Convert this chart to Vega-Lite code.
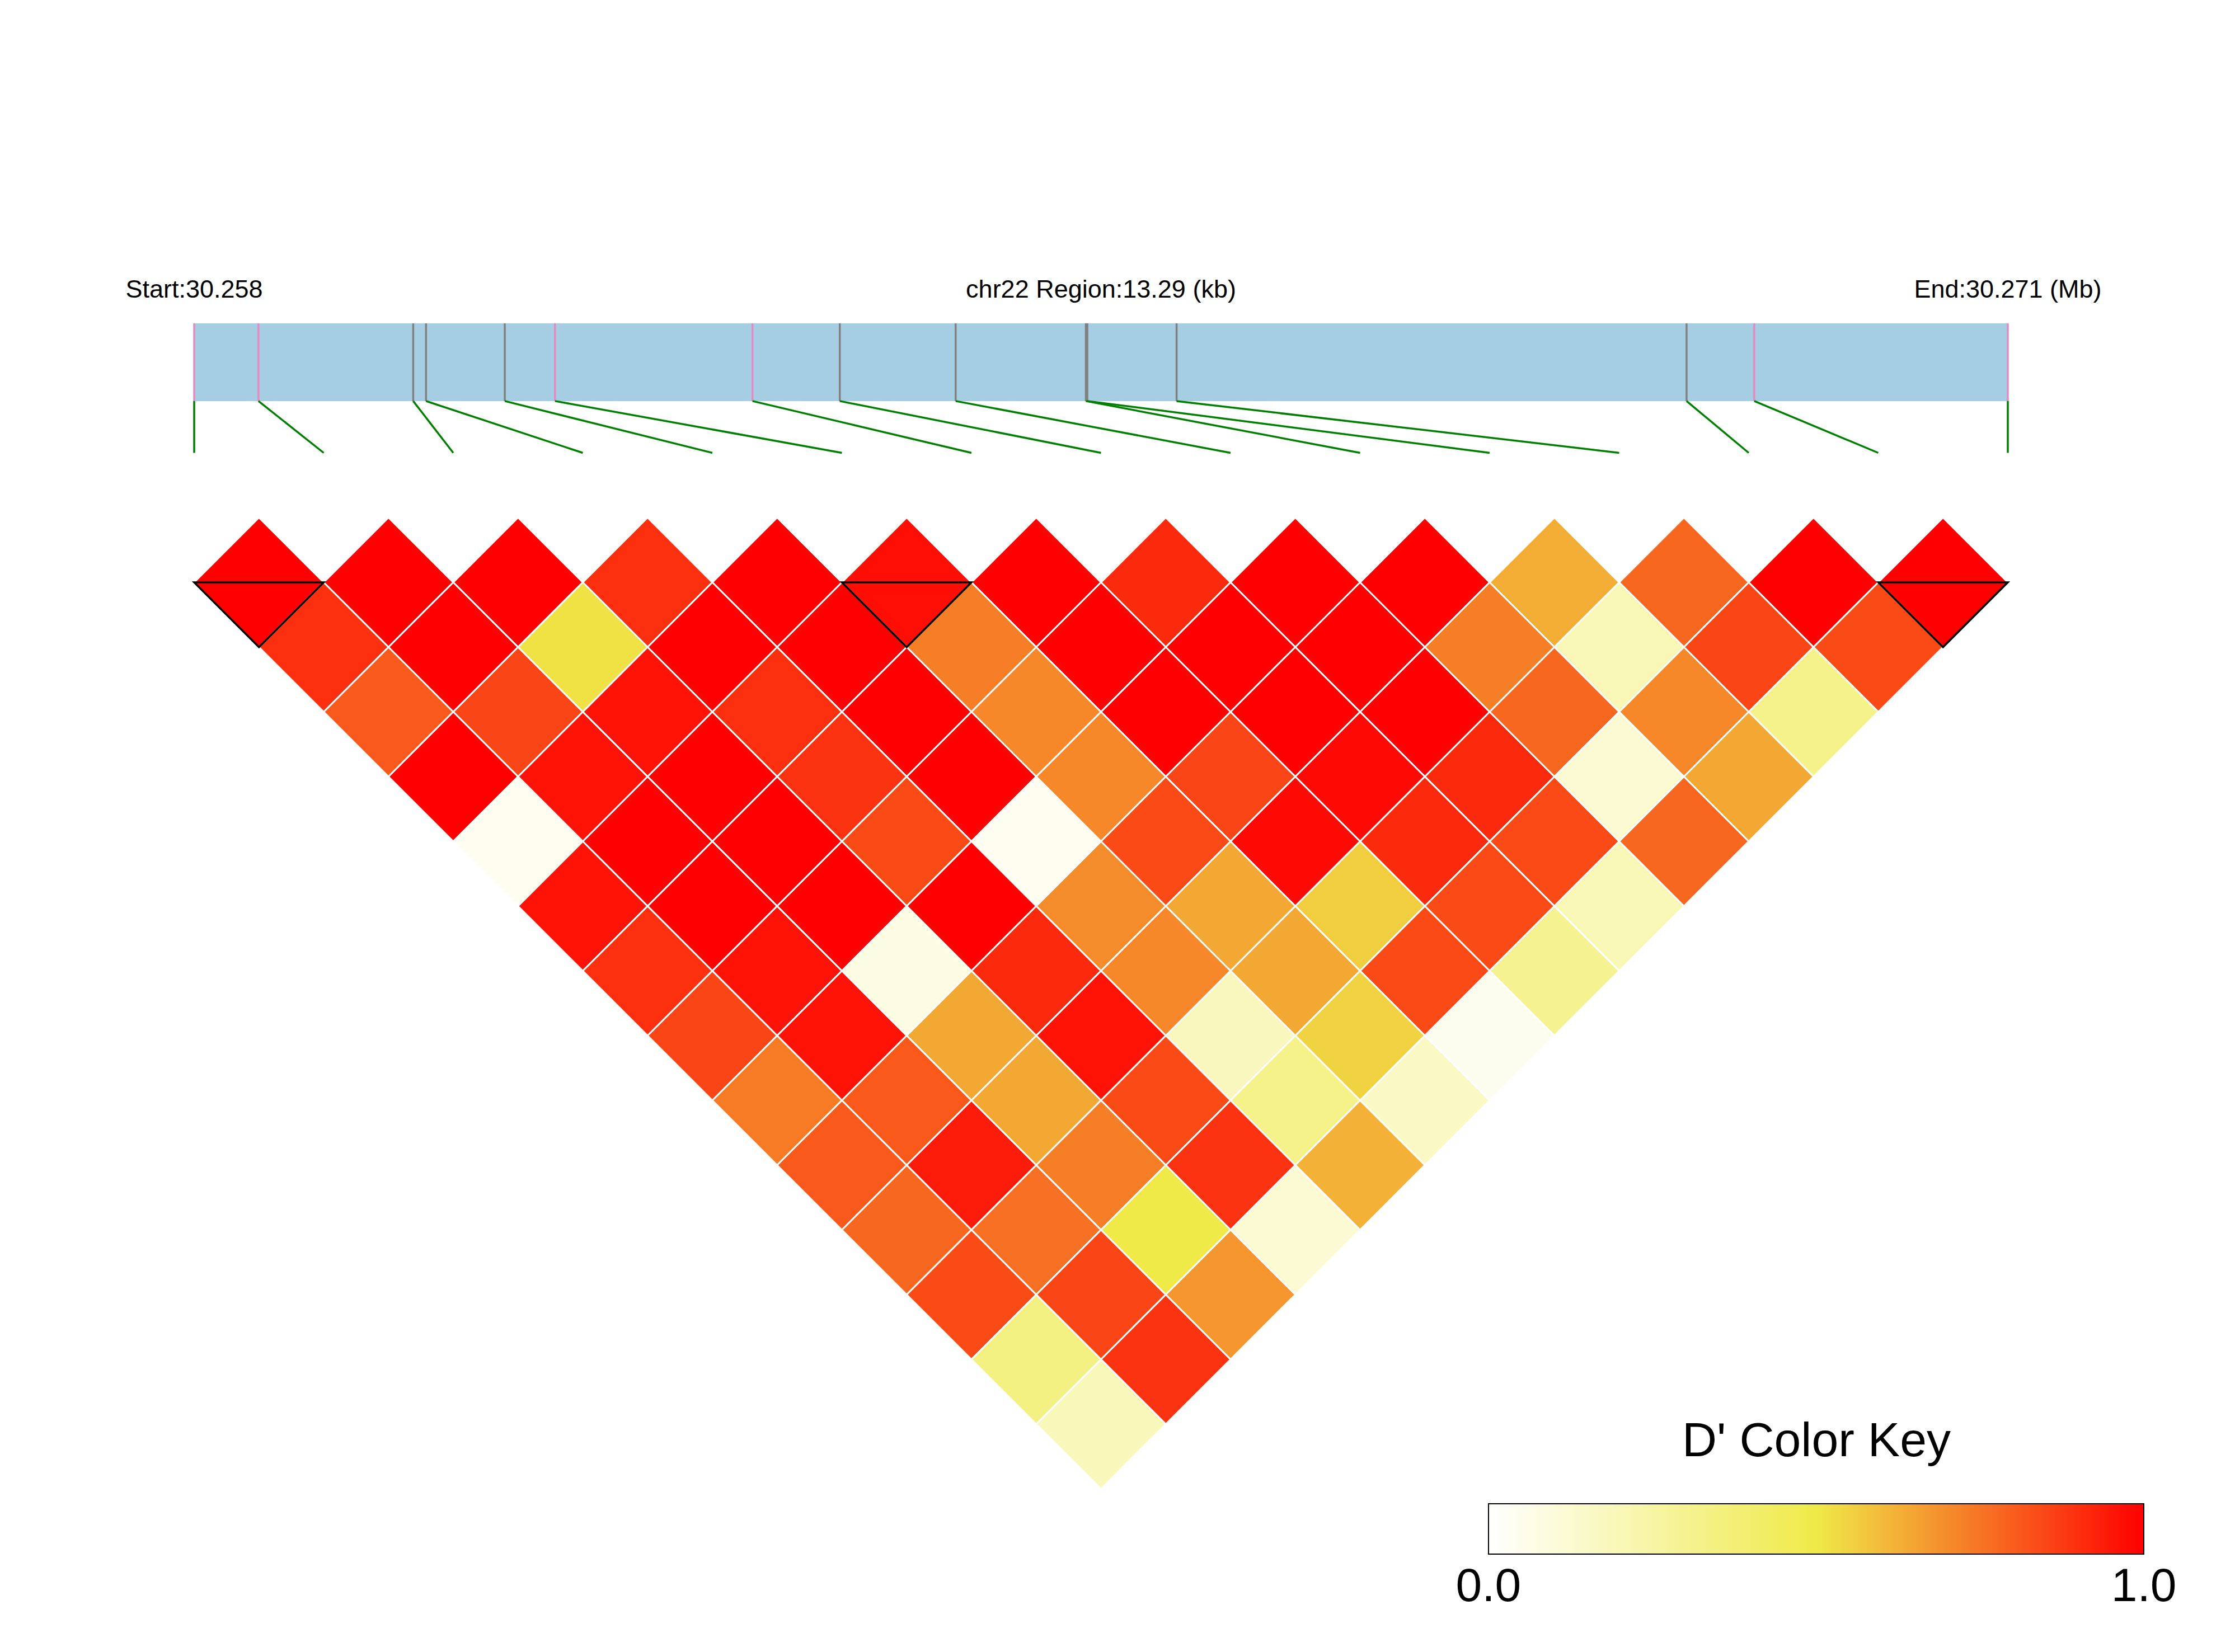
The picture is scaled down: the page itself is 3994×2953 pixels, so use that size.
{
  "$schema": "https://vega.github.io/schema/vega-lite/v6.json",
  "width": 3994,
  "height": 2953,
  "autosize": {"type": "none"},
  "padding": 0,
  "background": "white",
  "config": {"view": {"stroke": null}, "font": "Liberation Sans"},
  "datasets": {
    "region": [{"chr": "chr22", "start": 30258000, "end": 30271290}],
    "labels": [
      {"text": "Start:30.258", "pos": 30258000},
      {"text": "chr22 Region:13.29 (kb)", "pos": 30264645},
      {"text": "End:30.271 (Mb)", "pos": 30271290}
    ],
    "keyLabels": [{"v": 0, "text": "0.0"}, {"v": 1, "text": "1.0"}],
    "snps": [
      {"snp": "SNP1", "idx": 0, "pos": 30258000, "block": "yes"},
      {"snp": "SNP2", "idx": 1, "pos": 30258471, "block": "yes"},
      {"snp": "SNP3", "idx": 2, "pos": 30259605, "block": "no"},
      {"snp": "SNP4", "idx": 3, "pos": 30259699, "block": "no"},
      {"snp": "SNP5", "idx": 4, "pos": 30260276, "block": "no"},
      {"snp": "SNP6", "idx": 5, "pos": 30260644, "block": "yes"},
      {"snp": "SNP7", "idx": 6, "pos": 30262091, "block": "yes"},
      {"snp": "SNP8", "idx": 7, "pos": 30262731, "block": "no"},
      {"snp": "SNP9", "idx": 8, "pos": 30263580, "block": "no"},
      {"snp": "SNP10", "idx": 9, "pos": 30264534, "block": "no"},
      {"snp": "SNP11", "idx": 10, "pos": 30264545, "block": "no"},
      {"snp": "SNP12", "idx": 11, "pos": 30265199, "block": "no"},
      {"snp": "SNP13", "idx": 12, "pos": 30268936, "block": "no"},
      {"snp": "SNP14", "idx": 13, "pos": 30269432, "block": "yes"},
      {"snp": "SNP15", "idx": 14, "pos": 30271290, "block": "yes"}
    ],
    "blocks": [{"i": 0, "j": 1}, {"i": 5, "j": 6}, {"i": 13, "j": 14}],
    "ld": [
      {"i": 0, "j": 1, "d": 1.0}, {"i": 1, "j": 2, "d": 1.0}, {"i": 2, "j": 3, "d": 1.0}, {"i": 3, "j": 4, "d": 0.90},
      {"i": 4, "j": 5, "d": 1.0}, {"i": 5, "j": 6, "d": 0.97}, {"i": 6, "j": 7, "d": 1.0}, {"i": 7, "j": 8, "d": 0.91},
      {"i": 8, "j": 9, "d": 1.0}, {"i": 9, "j": 10, "d": 1.0}, {"i": 10, "j": 11, "d": 0.63}, {"i": 11, "j": 12, "d": 0.78},
      {"i": 12, "j": 13, "d": 1.0}, {"i": 13, "j": 14, "d": 1.0},
      {"i": 0, "j": 2, "d": 0.90}, {"i": 1, "j": 3, "d": 1.0}, {"i": 2, "j": 4, "d": 0.52}, {"i": 3, "j": 5, "d": 1.0},
      {"i": 4, "j": 6, "d": 1.0}, {"i": 5, "j": 7, "d": 0.73}, {"i": 6, "j": 8, "d": 1.0}, {"i": 7, "j": 9, "d": 1.0},
      {"i": 8, "j": 10, "d": 1.0}, {"i": 9, "j": 11, "d": 0.73}, {"i": 10, "j": 12, "d": 0.2}, {"i": 11, "j": 13, "d": 0.85},
      {"i": 12, "j": 14, "d": 0.84},
      {"i": 0, "j": 3, "d": 0.81}, {"i": 1, "j": 4, "d": 0.85}, {"i": 2, "j": 5, "d": 0.96}, {"i": 3, "j": 6, "d": 0.90},
      {"i": 4, "j": 7, "d": 1.0}, {"i": 5, "j": 8, "d": 0.71}, {"i": 6, "j": 9, "d": 1.0}, {"i": 7, "j": 10, "d": 1.0},
      {"i": 8, "j": 11, "d": 1.0}, {"i": 9, "j": 12, "d": 0.78}, {"i": 10, "j": 13, "d": 0.71}, {"i": 11, "j": 14, "d": 0.32},
      {"i": 0, "j": 4, "d": 1.0}, {"i": 1, "j": 5, "d": 0.96}, {"i": 2, "j": 6, "d": 1.0}, {"i": 3, "j": 7, "d": 0.89},
      {"i": 4, "j": 8, "d": 1.0}, {"i": 5, "j": 9, "d": 0.71}, {"i": 6, "j": 10, "d": 0.85}, {"i": 7, "j": 11, "d": 0.98},
      {"i": 8, "j": 12, "d": 0.91}, {"i": 9, "j": 13, "d": 0.12}, {"i": 10, "j": 14, "d": 0.64},
      {"i": 0, "j": 5, "d": 0.04}, {"i": 1, "j": 6, "d": 1.0}, {"i": 2, "j": 7, "d": 1.0}, {"i": 3, "j": 8, "d": 0.84},
      {"i": 4, "j": 9, "d": 0.04}, {"i": 5, "j": 10, "d": 0.84}, {"i": 6, "j": 11, "d": 0.98}, {"i": 7, "j": 12, "d": 0.91},
      {"i": 8, "j": 13, "d": 0.84}, {"i": 9, "j": 14, "d": 0.78},
      {"i": 0, "j": 6, "d": 0.96}, {"i": 1, "j": 7, "d": 1.0}, {"i": 2, "j": 8, "d": 1.0}, {"i": 3, "j": 9, "d": 1.0},
      {"i": 4, "j": 10, "d": 0.70}, {"i": 5, "j": 11, "d": 0.64}, {"i": 6, "j": 12, "d": 0.56}, {"i": 7, "j": 13, "d": 0.84},
      {"i": 8, "j": 14, "d": 0.2},
      {"i": 0, "j": 7, "d": 0.90}, {"i": 1, "j": 8, "d": 0.96}, {"i": 2, "j": 9, "d": 0.08}, {"i": 3, "j": 10, "d": 0.91},
      {"i": 4, "j": 11, "d": 0.71}, {"i": 5, "j": 12, "d": 0.64}, {"i": 6, "j": 13, "d": 0.84}, {"i": 7, "j": 14, "d": 0.3},
      {"i": 0, "j": 8, "d": 0.85}, {"i": 1, "j": 9, "d": 0.96}, {"i": 2, "j": 10, "d": 0.64}, {"i": 3, "j": 11, "d": 0.96},
      {"i": 4, "j": 12, "d": 0.18}, {"i": 5, "j": 13, "d": 0.55}, {"i": 6, "j": 14, "d": 0.05},
      {"i": 0, "j": 9, "d": 0.74}, {"i": 1, "j": 10, "d": 0.81}, {"i": 2, "j": 11, "d": 0.64}, {"i": 3, "j": 12, "d": 0.84},
      {"i": 4, "j": 13, "d": 0.32}, {"i": 5, "j": 14, "d": 0.16},
      {"i": 0, "j": 10, "d": 0.81}, {"i": 1, "j": 11, "d": 0.94}, {"i": 2, "j": 12, "d": 0.73}, {"i": 3, "j": 13, "d": 0.89},
      {"i": 4, "j": 14, "d": 0.62},
      {"i": 0, "j": 11, "d": 0.78}, {"i": 1, "j": 12, "d": 0.76}, {"i": 2, "j": 13, "d": 0.5}, {"i": 3, "j": 14, "d": 0.12},
      {"i": 0, "j": 12, "d": 0.84}, {"i": 1, "j": 13, "d": 0.85}, {"i": 2, "j": 14, "d": 0.68},
      {"i": 0, "j": 13, "d": 0.34}, {"i": 1, "j": 14, "d": 0.89},
      {"i": 0, "j": 14, "d": 0.19}
    ]
  },
  "layer": [
    {
      "data": {"name": "region"},
      "transform": [
        {"calculate": "(datum.start - 30258000) / 13290 * 14", "as": "gx1"},
        {"calculate": "(datum.end - 30258000) / 13290 * 14", "as": "gx2"}
      ],
      "mark": {"type": "rect", "color": "#A6CEE3"},
      "encoding": {
        "x": {"field": "gx1", "type": "quantitative", "scale": {"domain": [-1.4989, 15.7538], "nice": false, "zero": false}, "axis": null},
        "x2": {"field": "gx2"},
        "y": {"datum": -3, "type": "quantitative", "scale": {"domain": [-7.9935, 17.5184], "nice": false, "zero": false, "reverse": true}, "axis": null},
        "y2": {"datum": -1.8}
      }
    },
    {
      "data": {"name": "snps"},
      "transform": [{"calculate": "(datum.pos - 30258000) / 13290 * 14", "as": "gx"}],
      "mark": {"type": "rule", "strokeWidth": 3.5},
      "encoding": {
        "x": {"field": "gx", "type": "quantitative", "scale": {"domain": [-1.4989, 15.7538], "nice": false, "zero": false}, "axis": null},
        "y": {"datum": -3, "type": "quantitative", "scale": {"domain": [-7.9935, 17.5184], "nice": false, "zero": false, "reverse": true}, "axis": null},
        "y2": {"datum": -1.8},
        "stroke": {"field": "block", "type": "nominal", "scale": {"domain": ["yes", "no"], "range": ["#E58BC1", "#808080"]}, "legend": null}
      }
    },
    {
      "data": {"name": "snps"},
      "transform": [{"calculate": "(datum.pos - 30258000) / 13290 * 14", "as": "gx"}],
      "mark": {"type": "rule", "color": "#008000", "strokeWidth": 3.5},
      "encoding": {
        "x": {"field": "gx", "type": "quantitative", "scale": {"domain": [-1.4989, 15.7538], "nice": false, "zero": false}, "axis": null},
        "x2": {"field": "idx"},
        "y": {"datum": -1.8, "type": "quantitative", "scale": {"domain": [-7.9935, 17.5184], "nice": false, "zero": false, "reverse": true}, "axis": null},
        "y2": {"datum": -1}
      }
    },
    {
      "data": {"name": "labels"},
      "transform": [{"calculate": "(datum.pos - 30258000) / 13290 * 14", "as": "gx"}],
      "mark": {"type": "text", "fontSize": 45, "font": "Liberation Sans", "align": "center", "baseline": "alphabetic", "color": "black"},
      "encoding": {
        "x": {"field": "gx", "type": "quantitative", "scale": {"domain": [-1.4989, 15.7538], "nice": false, "zero": false}, "axis": null},
        "y": {"datum": -3.4, "type": "quantitative", "scale": {"domain": [-7.9935, 17.5184], "nice": false, "zero": false, "reverse": true}, "axis": null},
        "text": {"field": "text"}
      }
    },
    {
      "data": {"name": "ld"},
      "transform": [
        {"calculate": "(datum.i + datum.j) / 2", "as": "cx"},
        {"calculate": "datum.j - datum.i", "as": "cy"}
      ],
      "mark": {"type": "point", "shape": "diamond", "filled": true, "opacity": 1, "size": 53592, "stroke": "white", "strokeWidth": 3},
      "encoding": {
        "x": {"field": "cx", "type": "quantitative", "scale": {"domain": [-1.4989, 15.7538], "nice": false, "zero": false}, "axis": null},
        "y": {"field": "cy", "type": "quantitative", "scale": {"domain": [-7.9935, 17.5184], "nice": false, "zero": false, "reverse": true}, "axis": null},
        "color": {
          "field": "d", "type": "quantitative",
          "scale": {"domain": [0, 1], "range": ["#FFFFFF", "#EFEA48", "#FF0000"], "interpolate": "rgb"},
          "legend": {
            "title": "D' Color Key", "orient": "none", "legendX": 2660, "legendY": 2535,
            "direction": "horizontal", "gradientLength": 1171, "gradientThickness": 90,
            "gradientStrokeColor": "black", "gradientStrokeWidth": 2,
            "titleFontSize": 86, "titleFont": "Liberation Sans", "titleFontWeight": "normal", "titleColor": "black",
            "titleAnchor": "middle", "titlePadding": 67, "titleLimit": 2000,
            "labelFontSize": 84, "labelFont": "Liberation Sans", "labelColor": "black", "labelOpacity": 0,
            "labelExpr": "''",
            "labelOffset": 18, "values": [0, 1], "labelOverlap": false, "labelLimit": 500,
            "padding": 0, "offset": 0
          }
        }
      }
    },
    {
      "data": {"name": "keyLabels"},
      "transform": [{"calculate": "9.991 + datum.v * 5.059", "as": "kx"}],
      "mark": {"type": "text", "fontSize": 84, "font": "Liberation Sans", "align": "center", "baseline": "alphabetic", "color": "black"},
      "encoding": {
        "x": {"field": "kx", "type": "quantitative", "scale": {"domain": [-1.4989, 15.7538], "nice": false, "zero": false}, "axis": null},
        "y": {"datum": 16.73, "type": "quantitative", "scale": {"domain": [-7.9935, 17.5184], "nice": false, "zero": false, "reverse": true}, "axis": null},
        "text": {"field": "text"}
      }
    },
    {
      "data": {"name": "blocks"},
      "transform": [
        {"calculate": "(datum.i + datum.j) / 2", "as": "cx"},
        {"calculate": "datum.j - datum.i", "as": "cy"}
      ],
      "mark": {"type": "point", "shape": "M-1,0L1,0L0,1Z", "filled": false, "opacity": 1, "size": 53592, "stroke": "black", "strokeWidth": 3.5},
      "encoding": {
        "x": {"field": "cx", "type": "quantitative", "scale": {"domain": [-1.4989, 15.7538], "nice": false, "zero": false}, "axis": null},
        "y": {"field": "cy", "type": "quantitative", "scale": {"domain": [-7.9935, 17.5184], "nice": false, "zero": false, "reverse": true}, "axis": null}
      }
    }
  ]
}
